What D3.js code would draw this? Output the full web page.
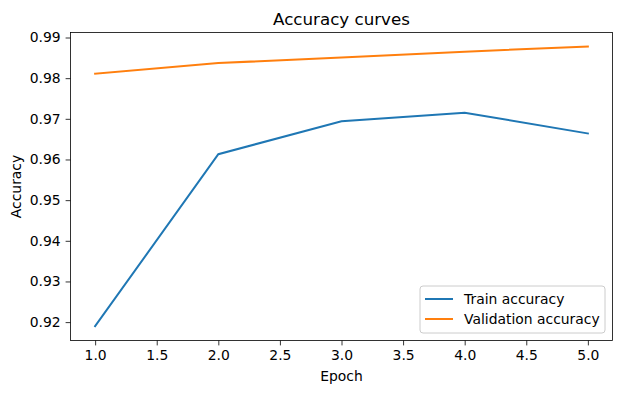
<!DOCTYPE html>
<html>
<head>
<meta charset="utf-8">
<script src="https://cdn.jsdelivr.net/npm/d3@7"></script>
<style>
  body { margin: 0; background: #fff; }
  svg { font-family: "DejaVu Sans", sans-serif; }
</style>
</head>
<body>
<svg width="622" height="393"></svg>
<script>
// values
const epochs = [1, 2, 3, 4, 5];
const trainAcc = [0.9190, 0.9613, 0.9694, 0.9715, 0.9664];
const valAcc = [0.9811, 0.9837, 0.9851, 0.9865, 0.9878];
const xTicks = [1.0, 1.5, 2.0, 2.5, 3.0, 3.5, 4.0, 4.5, 5.0];
const yTicks = [0.92, 0.93, 0.94, 0.95, 0.96, 0.97, 0.98, 0.99];
const seriesNames = ["Train accuracy", "Validation accuracy"];
const colors = ["#1f77b4", "#ff7f0e"];

const svg = d3.select("svg");
const pLeft = 70.5, pRight = 612.5, pTop = 32.5, pBottom = 340.5;

const x = d3.scaleLinear().domain([0.8, 5.2]).range([pLeft, pRight]);
const y = d3.scaleLinear().domain([0.91548, 0.99123]).range([pBottom, pTop]);

// axes
const fs = "13.9px";
const xAxis = svg.append("g")
    .attr("transform", `translate(0,${pBottom})`)
    .call(d3.axisBottom(x).tickValues(xTicks).tickFormat(d3.format(".1f")).tickSizeOuter(0).tickSize(4.9).tickPadding(4.9));
const yAxis = svg.append("g")
    .attr("transform", `translate(${pLeft},0)`)
    .call(d3.axisLeft(y).tickValues(yTicks).tickFormat(d3.format(".2f")).tickSizeOuter(0).tickSize(4.9).tickPadding(4.9));
[xAxis, yAxis].forEach(a => {
    a.select(".domain").remove();
    a.selectAll("text").attr("font-size", fs).attr("font-family", "DejaVu Sans").attr("fill", "#000");
    a.selectAll("line").attr("stroke", "#000").attr("stroke-width", 0.8);
});

// lines
const line = d3.line().x((d, i) => x(epochs[i])).y(d => y(d));
[trainAcc, valAcc].forEach((s, i) => {
    svg.append("path")
        .attr("d", line(s))
        .attr("fill", "none")
        .attr("stroke", colors[i])
        .attr("stroke-width", 2)
        .attr("stroke-linecap", "square");
});

// frame
svg.append("rect")
    .attr("x", pLeft).attr("y", pTop)
    .attr("width", pRight - pLeft).attr("height", pBottom - pTop)
    .attr("fill", "none").attr("stroke", "#000").attr("stroke-width", 0.8);

// title and labels
svg.append("text").attr("x", (pLeft + pRight) / 2).attr("y", pTop - 8)
    .attr("text-anchor", "middle").attr("font-size", "16.7px").text("Accuracy curves");
svg.append("text").attr("x", (pLeft + pRight) / 2).attr("y", 381)
    .attr("text-anchor", "middle").attr("font-size", fs).text("Epoch");
svg.append("text")
    .attr("transform", `translate(21,${(pTop + pBottom) / 2}) rotate(-90)`)
    .attr("text-anchor", "middle").attr("font-size", fs).text("Accuracy");

// legend
const lg = svg.append("g").attr("transform", "translate(420,286)");
lg.append("rect").attr("width", 185).attr("height", 47).attr("rx", 3)
    .attr("fill", "#fff").attr("fill-opacity", 0.8)
    .attr("stroke", "#ccc").attr("stroke-width", 1);
seriesNames.forEach((n, i) => {
    const yy = 13 + i * 20;
    lg.append("line").attr("x1", 5).attr("x2", 33).attr("y1", yy).attr("y2", yy)
        .attr("stroke", colors[i]).attr("stroke-width", 2);
    lg.append("text").attr("x", 44).attr("y", yy + 5)
        .attr("font-size", fs).text(n);
});
</script>
</body>
</html>
